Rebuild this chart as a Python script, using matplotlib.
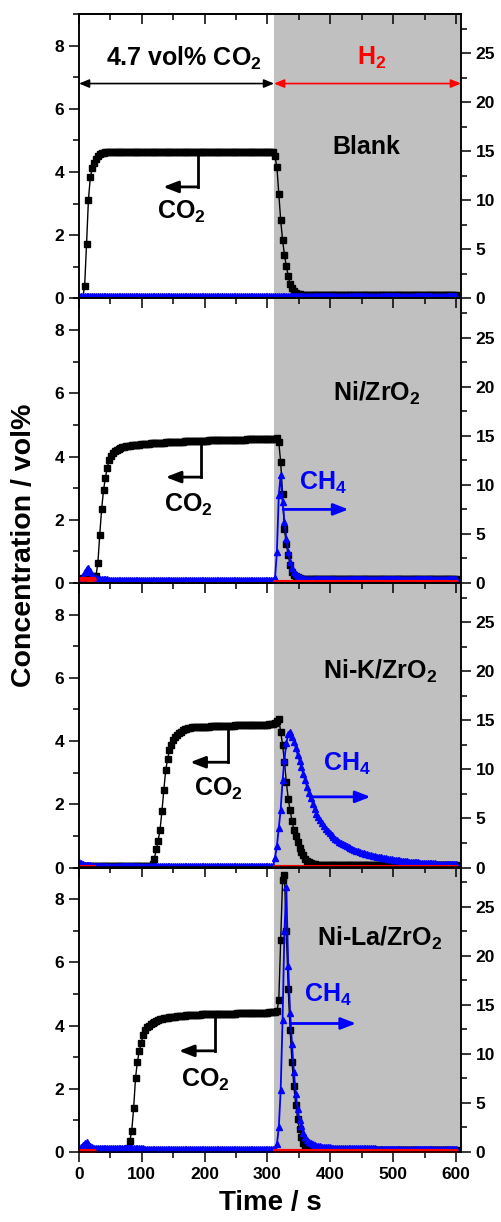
import numpy as np
import matplotlib
matplotlib.use("Agg")
import matplotlib.pyplot as plt
from matplotlib.ticker import MultipleLocator

plt.rcParams["font.family"] = ["Liberation Sans", "DejaVu Sans"]
plt.rcParams["font.weight"] = "bold"
plt.rcParams["mathtext.fontset"] = "custom"
plt.rcParams["mathtext.rm"] = "Liberation Sans:bold"
plt.rcParams["mathtext.default"] = "rm"

# sampling grid of the analyser (s)
time_s = np.arange(0, 603, 3)

samples = ["Blank", "Ni/ZrO$_2$", "Ni-K/ZrO$_2$", "Ni-La/ZrO$_2$"]

# CO2 concentration / vol% (left axis), one row = 30 s
co2 = [
    [0.00, 0.00, 0.03, 0.40, 1.72, 3.12, 3.83, 4.12, 4.30, 4.42,
     4.52, 4.57, 4.60, 4.61, 4.62, 4.63, 4.63, 4.63, 4.64, 4.64,
     4.64, 4.64, 4.64, 4.64, 4.64, 4.64, 4.65, 4.65, 4.65, 4.65,
     4.65, 4.65, 4.65, 4.65, 4.65, 4.65, 4.65, 4.65, 4.65, 4.65,
     4.65, 4.65, 4.65, 4.65, 4.65, 4.65, 4.65, 4.65, 4.65, 4.65,
     4.65, 4.65, 4.65, 4.65, 4.65, 4.65, 4.65, 4.65, 4.65, 4.65,
     4.65, 4.65, 4.65, 4.65, 4.65, 4.65, 4.65, 4.65, 4.65, 4.65,
     4.65, 4.65, 4.65, 4.65, 4.65, 4.65, 4.65, 4.65, 4.65, 4.65,
     4.65, 4.65, 4.65, 4.65, 4.65, 4.65, 4.65, 4.65, 4.65, 4.65,
     4.65, 4.65, 4.65, 4.65, 4.65, 4.65, 4.65, 4.65, 4.65, 4.65,
     4.65, 4.65, 4.64, 4.63, 4.50, 4.15, 3.30, 2.48, 1.85, 1.38,
     1.02, 0.72, 0.47, 0.34, 0.24, 0.18, 0.15, 0.13, 0.12, 0.11,
     0.11, 0.11, 0.11, 0.11, 0.10, 0.10, 0.10, 0.10, 0.10, 0.10,
     0.10, 0.10, 0.10, 0.10, 0.10, 0.10, 0.10, 0.10, 0.10, 0.10,
     0.10, 0.10, 0.10, 0.10, 0.10, 0.10, 0.10, 0.10, 0.10, 0.10,
     0.10, 0.10, 0.10, 0.10, 0.10, 0.10, 0.10, 0.10, 0.10, 0.10,
     0.10, 0.10, 0.10, 0.10, 0.10, 0.10, 0.10, 0.10, 0.10, 0.10,
     0.10, 0.10, 0.10, 0.10, 0.10, 0.10, 0.10, 0.10, 0.10, 0.10,
     0.10, 0.10, 0.10, 0.10, 0.10, 0.10, 0.10, 0.10, 0.10, 0.10,
     0.10, 0.10, 0.10, 0.10, 0.10, 0.10, 0.10, 0.10, 0.10, 0.10,
     0.10],
    [0.10, 0.13, 0.16, 0.19, 0.20, 0.20, 0.20, 0.20, 0.21, 0.23,
     0.62, 1.52, 2.33, 2.93, 3.33, 3.65, 3.88, 4.02, 4.12, 4.18,
     4.22, 4.25, 4.27, 4.29, 4.31, 4.32, 4.33, 4.34, 4.35, 4.36,
     4.37, 4.38, 4.38, 4.39, 4.40, 4.40, 4.41, 4.41, 4.42, 4.42,
     4.43, 4.43, 4.43, 4.44, 4.44, 4.44, 4.45, 4.45, 4.45, 4.46,
     4.46, 4.46, 4.47, 4.47, 4.47, 4.47, 4.48, 4.48, 4.48, 4.48,
     4.49, 4.49, 4.49, 4.49, 4.50, 4.50, 4.50, 4.50, 4.50, 4.51,
     4.51, 4.51, 4.51, 4.51, 4.51, 4.52, 4.52, 4.52, 4.52, 4.52,
     4.52, 4.52, 4.53, 4.53, 4.53, 4.53, 4.53, 4.53, 4.53, 4.54,
     4.54, 4.54, 4.54, 4.54, 4.54, 4.54, 4.55, 4.55, 4.55, 4.55,
     4.55, 4.55, 4.56, 4.56, 4.57, 4.58, 4.45, 3.82, 2.80, 1.70,
     1.22, 0.88, 0.57, 0.36, 0.26, 0.21, 0.18, 0.16, 0.14, 0.13,
     0.12, 0.12, 0.12, 0.12, 0.12, 0.12, 0.12, 0.12, 0.12, 0.12,
     0.12, 0.12, 0.12, 0.12, 0.12, 0.12, 0.12, 0.12, 0.12, 0.12,
     0.12, 0.12, 0.12, 0.12, 0.12, 0.12, 0.12, 0.12, 0.12, 0.12,
     0.12, 0.12, 0.12, 0.12, 0.12, 0.12, 0.12, 0.12, 0.12, 0.12,
     0.12, 0.12, 0.12, 0.12, 0.12, 0.12, 0.12, 0.12, 0.12, 0.12,
     0.12, 0.12, 0.12, 0.12, 0.12, 0.12, 0.12, 0.12, 0.12, 0.12,
     0.12, 0.12, 0.12, 0.12, 0.12, 0.12, 0.12, 0.12, 0.12, 0.12,
     0.12, 0.12, 0.12, 0.12, 0.12, 0.12, 0.12, 0.12, 0.12, 0.12,
     0.12],
    [0.05, 0.05, 0.05, 0.05, 0.05, 0.05, 0.05, 0.05, 0.05, 0.05,
     0.05, 0.05, 0.05, 0.05, 0.05, 0.05, 0.05, 0.05, 0.05, 0.05,
     0.05, 0.05, 0.05, 0.05, 0.05, 0.05, 0.05, 0.05, 0.05, 0.05,
     0.05, 0.05, 0.05, 0.05, 0.05, 0.05, 0.05, 0.05, 0.06, 0.12,
     0.28, 0.58, 0.85, 1.20, 1.78, 2.45, 3.08, 3.43, 3.71, 3.88,
     4.02, 4.12, 4.20, 4.26, 4.30, 4.34, 4.37, 4.39, 4.41, 4.42,
     4.43, 4.43, 4.44, 4.44, 4.45, 4.45, 4.45, 4.46, 4.46, 4.46,
     4.47, 4.47, 4.47, 4.47, 4.48, 4.48, 4.48, 4.48, 4.49, 4.49,
     4.49, 4.49, 4.49, 4.50, 4.50, 4.50, 4.50, 4.50, 4.51, 4.51,
     4.51, 4.51, 4.51, 4.51, 4.52, 4.52, 4.52, 4.52, 4.52, 4.52,
     4.52, 4.53, 4.53, 4.54, 4.56, 4.62, 4.70, 4.30, 3.88, 3.35,
     2.70, 2.18, 1.81, 1.48, 1.20, 1.00, 0.80, 0.62, 0.48, 0.38,
     0.28, 0.22, 0.17, 0.14, 0.12, 0.10, 0.09, 0.08, 0.08, 0.07,
     0.07, 0.07, 0.07, 0.07, 0.07, 0.07, 0.07, 0.07, 0.07, 0.07,
     0.07, 0.07, 0.07, 0.07, 0.07, 0.07, 0.07, 0.07, 0.07, 0.07,
     0.07, 0.07, 0.07, 0.07, 0.07, 0.07, 0.07, 0.07, 0.07, 0.07,
     0.07, 0.07, 0.07, 0.07, 0.07, 0.07, 0.07, 0.07, 0.07, 0.07,
     0.07, 0.07, 0.07, 0.07, 0.07, 0.07, 0.07, 0.07, 0.07, 0.07,
     0.07, 0.07, 0.07, 0.07, 0.07, 0.07, 0.07, 0.07, 0.07, 0.07,
     0.07, 0.07, 0.07, 0.07, 0.07, 0.07, 0.07, 0.07, 0.07, 0.07,
     0.07],
    [0.05, 0.05, 0.05, 0.05, 0.05, 0.05, 0.05, 0.05, 0.05, 0.05,
     0.05, 0.05, 0.05, 0.05, 0.05, 0.05, 0.05, 0.05, 0.05, 0.05,
     0.05, 0.05, 0.05, 0.05, 0.05, 0.06, 0.12, 0.36, 0.68, 1.40,
     2.35, 2.86, 3.20, 3.46, 3.70, 3.85, 3.94, 4.00, 4.05, 4.09,
     4.12, 4.15, 4.18, 4.20, 4.22, 4.23, 4.24, 4.25, 4.26, 4.27,
     4.28, 4.28, 4.29, 4.30, 4.30, 4.31, 4.31, 4.32, 4.32, 4.33,
     4.33, 4.33, 4.34, 4.34, 4.34, 4.35, 4.35, 4.35, 4.35, 4.36,
     4.36, 4.36, 4.36, 4.37, 4.37, 4.37, 4.37, 4.37, 4.38, 4.38,
     4.38, 4.38, 4.38, 4.38, 4.39, 4.39, 4.39, 4.39, 4.39, 4.39,
     4.40, 4.40, 4.40, 4.40, 4.40, 4.40, 4.41, 4.41, 4.41, 4.41,
     4.41, 4.42, 4.42, 4.42, 4.42, 4.45, 4.80, 6.70, 8.60, 8.75,
     7.00, 5.15, 3.87, 2.85, 2.08, 1.50, 1.05, 0.72, 0.48, 0.30,
     0.20, 0.14, 0.11, 0.09, 0.08, 0.08, 0.07, 0.07, 0.07, 0.07,
     0.06, 0.06, 0.06, 0.06, 0.06, 0.06, 0.06, 0.06, 0.06, 0.06,
     0.06, 0.06, 0.06, 0.06, 0.06, 0.06, 0.06, 0.06, 0.06, 0.06,
     0.06, 0.06, 0.06, 0.06, 0.06, 0.06, 0.06, 0.06, 0.06, 0.06,
     0.06, 0.06, 0.06, 0.06, 0.06, 0.06, 0.06, 0.06, 0.06, 0.06,
     0.06, 0.06, 0.06, 0.06, 0.06, 0.06, 0.06, 0.06, 0.06, 0.06,
     0.06, 0.06, 0.06, 0.06, 0.06, 0.06, 0.06, 0.06, 0.06, 0.06,
     0.06, 0.06, 0.06, 0.06, 0.06, 0.06, 0.06, 0.06, 0.06, 0.06,
     0.06],
]

# CH4 concentration / vol% (right axis)
ch4 = [
    [0.25, 0.25, 0.25, 0.25, 0.25, 0.25, 0.25, 0.25, 0.25, 0.25,
     0.25, 0.25, 0.25, 0.25, 0.25, 0.25, 0.25, 0.25, 0.25, 0.25,
     0.25, 0.25, 0.25, 0.25, 0.25, 0.25, 0.25, 0.25, 0.25, 0.25,
     0.25, 0.25, 0.25, 0.25, 0.25, 0.25, 0.25, 0.25, 0.25, 0.25,
     0.25, 0.25, 0.25, 0.25, 0.25, 0.25, 0.25, 0.25, 0.25, 0.25,
     0.25, 0.25, 0.25, 0.25, 0.25, 0.25, 0.25, 0.25, 0.25, 0.25,
     0.25, 0.25, 0.25, 0.25, 0.25, 0.25, 0.25, 0.25, 0.25, 0.25,
     0.25, 0.25, 0.25, 0.25, 0.25, 0.25, 0.25, 0.25, 0.25, 0.25,
     0.25, 0.25, 0.25, 0.25, 0.25, 0.25, 0.25, 0.25, 0.25, 0.25,
     0.25, 0.25, 0.25, 0.25, 0.25, 0.25, 0.25, 0.25, 0.25, 0.25,
     0.25, 0.25, 0.25, 0.25, 0.25, 0.25, 0.25, 0.25, 0.25, 0.25,
     0.25, 0.25, 0.25, 0.25, 0.25, 0.25, 0.25, 0.25, 0.25, 0.25,
     0.25, 0.25, 0.25, 0.25, 0.25, 0.25, 0.25, 0.25, 0.25, 0.25,
     0.25, 0.25, 0.25, 0.25, 0.25, 0.25, 0.25, 0.25, 0.25, 0.25,
     0.25, 0.25, 0.25, 0.25, 0.25, 0.25, 0.25, 0.25, 0.25, 0.25,
     0.25, 0.25, 0.25, 0.25, 0.25, 0.25, 0.25, 0.25, 0.25, 0.25,
     0.25, 0.25, 0.25, 0.25, 0.25, 0.25, 0.25, 0.25, 0.25, 0.25,
     0.25, 0.25, 0.25, 0.25, 0.25, 0.25, 0.25, 0.25, 0.25, 0.25,
     0.25, 0.25, 0.25, 0.25, 0.25, 0.25, 0.25, 0.25, 0.25, 0.25,
     0.25, 0.25, 0.25, 0.25, 0.25, 0.25, 0.25, 0.25, 0.25, 0.25,
     0.25],
    [0.35, 0.45, 0.70, 1.10, 1.45, 1.52, 1.20, 0.85, 0.60, 0.48,
     0.42, 0.40, 0.38, 0.37, 0.36, 0.36, 0.35, 0.35, 0.35, 0.35,
     0.35, 0.35, 0.35, 0.35, 0.35, 0.35, 0.35, 0.35, 0.35, 0.35,
     0.35, 0.35, 0.35, 0.35, 0.35, 0.35, 0.35, 0.35, 0.35, 0.35,
     0.34, 0.34, 0.34, 0.34, 0.34, 0.34, 0.34, 0.34, 0.34, 0.34,
     0.34, 0.34, 0.34, 0.34, 0.34, 0.34, 0.34, 0.34, 0.34, 0.34,
     0.34, 0.34, 0.34, 0.34, 0.34, 0.34, 0.34, 0.34, 0.34, 0.34,
     0.33, 0.33, 0.33, 0.33, 0.33, 0.33, 0.33, 0.33, 0.33, 0.33,
     0.33, 0.33, 0.33, 0.33, 0.33, 0.33, 0.33, 0.33, 0.33, 0.33,
     0.33, 0.33, 0.33, 0.33, 0.33, 0.33, 0.33, 0.33, 0.33, 0.33,
     0.33, 0.33, 0.33, 0.33, 0.50, 3.20, 9.00, 11.00, 8.30, 6.20,
     4.50, 3.20, 2.10, 1.50, 1.15, 0.92, 0.75, 0.62, 0.54, 0.48,
     0.45, 0.43, 0.42, 0.41, 0.40, 0.40, 0.40, 0.40, 0.40, 0.40,
     0.40, 0.40, 0.40, 0.40, 0.40, 0.40, 0.40, 0.40, 0.40, 0.40,
     0.40, 0.40, 0.40, 0.40, 0.40, 0.40, 0.40, 0.40, 0.40, 0.40,
     0.40, 0.40, 0.40, 0.40, 0.40, 0.40, 0.40, 0.40, 0.40, 0.40,
     0.40, 0.40, 0.40, 0.40, 0.40, 0.40, 0.40, 0.40, 0.40, 0.40,
     0.40, 0.40, 0.40, 0.40, 0.40, 0.40, 0.40, 0.40, 0.40, 0.40,
     0.40, 0.40, 0.40, 0.40, 0.40, 0.40, 0.40, 0.40, 0.40, 0.40,
     0.40, 0.40, 0.40, 0.40, 0.40, 0.40, 0.40, 0.40, 0.40, 0.40,
     0.40],
    [0.55, 0.45, 0.35, 0.28, 0.24, 0.22, 0.21, 0.20, 0.20, 0.20,
     0.20, 0.20, 0.20, 0.20, 0.20, 0.20, 0.20, 0.20, 0.20, 0.20,
     0.20, 0.20, 0.20, 0.20, 0.20, 0.20, 0.20, 0.20, 0.20, 0.20,
     0.20, 0.20, 0.20, 0.20, 0.20, 0.20, 0.20, 0.20, 0.20, 0.20,
     0.20, 0.20, 0.20, 0.20, 0.20, 0.20, 0.20, 0.20, 0.20, 0.20,
     0.20, 0.20, 0.20, 0.20, 0.20, 0.20, 0.20, 0.20, 0.20, 0.20,
     0.20, 0.20, 0.20, 0.20, 0.20, 0.20, 0.20, 0.20, 0.20, 0.20,
     0.20, 0.20, 0.20, 0.20, 0.20, 0.20, 0.20, 0.20, 0.20, 0.20,
     0.20, 0.20, 0.20, 0.20, 0.20, 0.20, 0.20, 0.20, 0.20, 0.20,
     0.20, 0.20, 0.20, 0.20, 0.20, 0.20, 0.20, 0.20, 0.20, 0.20,
     0.20, 0.20, 0.20, 0.20, 1.00, 2.20, 4.00, 5.90, 8.90, 11.00,
     12.70, 13.60, 13.80, 13.30, 12.80, 12.20, 11.50, 10.90, 10.20, 9.50,
     8.90, 8.20, 7.60, 7.10, 6.50, 6.00, 5.50, 5.10, 4.80, 4.50,
     4.20, 3.95, 3.70, 3.50, 3.30, 3.10, 2.95, 2.80, 2.65, 2.50,
     2.38, 2.27, 2.16, 2.06, 1.97, 1.88, 1.80, 1.72, 1.65, 1.58,
     1.52, 1.46, 1.40, 1.35, 1.30, 1.25, 1.20, 1.16, 1.12, 1.08,
     1.04, 1.00, 0.96, 0.93, 0.90, 0.87, 0.84, 0.81, 0.78, 0.75,
     0.72, 0.70, 0.67, 0.65, 0.63, 0.61, 0.59, 0.57, 0.55, 0.53,
     0.52, 0.50, 0.49, 0.48, 0.46, 0.45, 0.44, 0.43, 0.42, 0.41,
     0.40, 0.39, 0.38, 0.38, 0.37, 0.36, 0.36, 0.35, 0.35, 0.34,
     0.34],
    [0.30, 0.50, 0.75, 0.95, 1.00, 0.80, 0.60, 0.50, 0.45, 0.42,
     0.40, 0.40, 0.40, 0.40, 0.40, 0.39, 0.39, 0.39, 0.39, 0.39,
     0.38, 0.38, 0.38, 0.38, 0.38, 0.37, 0.37, 0.37, 0.37, 0.37,
     0.36, 0.36, 0.36, 0.36, 0.36, 0.35, 0.35, 0.35, 0.35, 0.35,
     0.34, 0.34, 0.34, 0.34, 0.34, 0.33, 0.33, 0.33, 0.33, 0.33,
     0.32, 0.32, 0.32, 0.32, 0.32, 0.31, 0.31, 0.31, 0.31, 0.31,
     0.30, 0.30, 0.30, 0.30, 0.30, 0.30, 0.30, 0.30, 0.30, 0.30,
     0.30, 0.30, 0.30, 0.30, 0.30, 0.30, 0.30, 0.30, 0.30, 0.30,
     0.30, 0.30, 0.30, 0.30, 0.30, 0.30, 0.30, 0.30, 0.30, 0.30,
     0.30, 0.30, 0.30, 0.30, 0.30, 0.30, 0.30, 0.30, 0.30, 0.30,
     0.30, 0.30, 0.30, 0.30, 0.30, 0.80, 2.50, 6.30, 13.50, 22.50,
     27.00, 19.00, 14.20, 11.00, 8.20, 5.90, 4.40, 3.30, 2.60, 1.95,
     1.55, 1.25, 1.02, 0.90, 0.80, 0.72, 0.66, 0.62, 0.58, 0.55,
     0.52, 0.50, 0.48, 0.46, 0.45, 0.44, 0.43, 0.42, 0.41, 0.40,
     0.40, 0.40, 0.39, 0.39, 0.39, 0.38, 0.38, 0.38, 0.38, 0.37,
     0.37, 0.37, 0.37, 0.36, 0.36, 0.36, 0.36, 0.36, 0.35, 0.35,
     0.35, 0.35, 0.35, 0.35, 0.35, 0.35, 0.35, 0.35, 0.35, 0.35,
     0.35, 0.35, 0.35, 0.35, 0.35, 0.35, 0.35, 0.35, 0.35, 0.35,
     0.35, 0.35, 0.35, 0.35, 0.35, 0.35, 0.35, 0.35, 0.35, 0.35,
     0.35, 0.35, 0.35, 0.35, 0.35, 0.35, 0.35, 0.35, 0.35, 0.35,
     0.35],
]

# third (red) trace, right-axis units: level during the H2 step and in the
# first seconds of each run (hidden under CH4 in between)
red_h2 = [0.00, 0.10, 0.10, 0.10]
red_start = [0.00, 0.40, 0.10, 0.10]

# text placement (data coords): label, CO2 arrow, CH4 arrow
label_pos = [(458, 4.8), (474, 6.0), (479, 6.2), (479, 6.75)]
co2_arrow = [(189, 4.60, 3.53, 134), (194, 4.45, 3.35, 138),
             (237, 4.40, 3.33, 177), (216, 4.33, 3.20, 159)]
co2_text = [(163, 2.75), (174, 2.48), (222, 2.48), (201, 2.27)]
ch4_arrow = [None, (325, 7.5, 429), (368, 7.2, 464), (336, 13.1, 441)]
ch4_text = [None, (389, 10.2), (426, 10.6), (397, 16.0)]

T_SWITCH = 310.5
XMAX = 608

fig = plt.figure(figsize=(5.02, 12.22), dpi=100)
W, H = 502, 1222
left, right = 79, 461
top, bottom = 14, 1152
ph = (bottom - top) / 4

tick_kw = dict(labelsize=12.5, width=1.1)
for i in range(4):
    y0 = top + ph * (i + 1)
    ax = fig.add_axes([left / W, 1 - y0 / H, (right - left) / W, ph / H])
    ax.patch.set_visible(False)
    ax2 = ax.twinx()

    ax.axvspan(T_SWITCH, XMAX, color="#c0c0c0", zorder=0, lw=0)

    co2_i = np.array(co2[i])
    ch4_i = np.array(ch4[i])
    red_i = np.full(time_s.shape, np.nan)
    red_i[time_s >= 312] = red_h2[i]
    red_i[time_s <= 24] = red_start[i]

    ax.plot(time_s, co2_i, color="black", lw=1.0, marker="s", ms=3.8,
            zorder=3)
    ax2.plot(time_s, ch4_i, color="blue", lw=1.3, marker="^", ms=4.6)
    if i > 0:
        ax2.plot(time_s, red_i, color="red", lw=3.0, marker="o", ms=2.2)

    ax.set_xlim(0, XMAX)
    ax.set_ylim(0, 9)
    ax2.set_ylim(0, 29)

    ax.xaxis.set_major_locator(MultipleLocator(100))
    ax.xaxis.set_minor_locator(MultipleLocator(50))
    ax.yaxis.set_major_locator(MultipleLocator(2))
    ax.yaxis.set_minor_locator(MultipleLocator(1))
    ax2.yaxis.set_major_locator(MultipleLocator(5))
    ax2.yaxis.set_minor_locator(MultipleLocator(2.5))

    ax.tick_params(axis="y", which="major", direction="out", length=7,
                   **tick_kw)
    ax.tick_params(axis="y", which="minor", direction="out", length=4,
                   width=1.1)
    ax2.tick_params(axis="y", which="major", direction="out", length=7,
                    **tick_kw)
    ax2.tick_params(axis="y", which="minor", direction="out", length=4,
                    width=1.1)

    # top ticks point inwards on every panel
    sec = ax.secondary_xaxis("top")
    sec.xaxis.set_major_locator(MultipleLocator(100))
    sec.xaxis.set_minor_locator(MultipleLocator(50))
    sec.tick_params(which="major", direction="in", length=7, width=1.1,
                    labeltop=False)
    sec.tick_params(which="minor", direction="in", length=4, width=1.1)
    sec.spines["top"].set_linewidth(1.1)

    if i == 3:
        ax.tick_params(axis="x", which="major", direction="out", length=7,
                       **tick_kw)
        ax.tick_params(axis="x", which="minor", direction="out", length=4,
                       width=1.1)
        ax.set_xlabel("Time / s", fontsize=20, fontweight="bold", labelpad=6)
    else:
        ax.tick_params(axis="x", which="both", bottom=False,
                       labelbottom=False)

    for a in (ax, ax2):
        for s in a.spines.values():
            s.set_linewidth(1.1)
        for lab in a.get_yticklabels() + a.get_xticklabels():
            lab.set_fontweight("bold")

    # sample label
    lx, ly = label_pos[i]
    ax.text(lx, ly, samples[i], fontsize=18, fontweight="bold",
            ha="center", va="center", zorder=5)

    # CO2 pointer: vertical stroke then arrow to the left axis
    xv, ya, yb, xe = co2_arrow[i]
    ax.plot([xv, xv], [ya, yb], color="black", lw=2, zorder=4)
    ax.annotate("", xy=(xe, yb), xytext=(xv + 0.8, yb),
                arrowprops=dict(arrowstyle="-|>,head_length=0.9,head_width=0.35",
                                color="black", lw=2, shrinkA=0, shrinkB=0),
                zorder=4)
    tx, ty = co2_text[i]
    ax.text(tx, ty, "CO$_2$", fontsize=18, fontweight="bold", ha="center",
            va="center", zorder=5)

    if ch4_arrow[i] is not None:
        xs, yc, xe = ch4_arrow[i]
        ax2.annotate("", xy=(xe, yc), xytext=(xs, yc),
                     arrowprops=dict(arrowstyle="-|>,head_length=0.9,head_width=0.35",
                                     color="blue", lw=2, shrinkA=0, shrinkB=0))
        tx, ty = ch4_text[i]
        ax2.text(tx, ty, "CH$_4$", fontsize=18, fontweight="bold",
                 color="blue", ha="center", va="center")

    if i == 0:
        ax.annotate("", xy=(0, 6.8), xytext=(T_SWITCH, 6.8),
                    arrowprops=dict(arrowstyle="<|-|>,head_length=0.6,head_width=0.25",
                                    color="black", lw=1.2, shrinkA=0, shrinkB=0))
        ax.annotate("", xy=(T_SWITCH, 6.8), xytext=(XMAX, 6.8),
                    arrowprops=dict(arrowstyle="<|-|>,head_length=0.6,head_width=0.25",
                                    color="red", lw=1.2, shrinkA=0, shrinkB=0))
        ax.text(167, 7.6, "4.7 vol% CO$_2$", fontsize=18, fontweight="bold",
                ha="center", va="center")
        ax.text(466, 7.6, "H$_2$", fontsize=18, fontweight="bold",
                color="red", ha="center", va="center")

fig.text(24 / W, 1 - 545 / H, "Concentration / vol%", rotation=90,
         fontsize=20.5, fontweight="bold", ha="center", va="center")

fig.savefig("out.png", dpi=100)
